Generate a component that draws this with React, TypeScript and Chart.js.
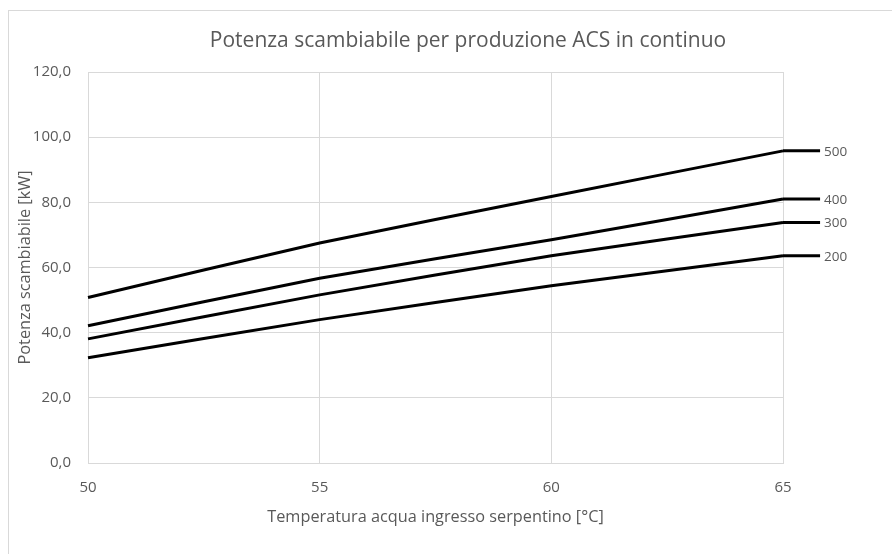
import React, { useEffect, useRef } from "react";
import { Chart, registerables } from "chart.js";

Chart.register(...registerables);

// ---- data ----
const temperatures = [50, 55, 60, 65];
const tailEndTemperature = 65.8;
const seriesNames = ["500", "400", "300", "200"];
const power500 = [50.8, 67.5, 81.8, 95.8];
const power400 = [42.1, 56.7, 68.5, 81.0];
const power300 = [38.1, 51.6, 63.6, 73.8];
const power200 = [32.3, 44.0, 54.4, 63.6];
const yTicks = [0, 20, 40, 60, 80, 100, 120];
const xTicks = [50, 55, 60, 65];

const chartTitle = "Potenza scambiabile per produzione ACS in continuo";
const xTitle = "Temperatura acqua ingresso serpentino [°C]";
const yTitle = "Potenza scambiabile [kW]";

const TEXT = "#595959";
const GRID = "#d9d9d9";
const FONT = "'Open Sans', sans-serif";

export default function App() {
  const ref = useRef<HTMLCanvasElement | null>(null);

  useEffect(() => {
    if (!ref.current) return;
    const allSeries = [power500, power400, power300, power200];
    const datasets: any[] = [];
    allSeries.forEach((vals, i) => {
      datasets.push({
        label: seriesNames[i],
        data: temperatures.map((t, j) => ({ x: t, y: vals[j] })),
        borderColor: "#000",
        borderWidth: 3,
        pointRadius: 0,
        tension: 0.15,
        fill: false,
        clip: false,
      });
      const last = vals[vals.length - 1];
      datasets.push({
        label: seriesNames[i] + "-tail",
        data: [
          { x: temperatures[temperatures.length - 1], y: last },
          { x: tailEndTemperature, y: last },
        ],
        borderColor: "#000",
        borderWidth: 3,
        pointRadius: 0,
        tension: 0,
        fill: false,
        clip: false,
        isTail: true,
        seriesLabel: seriesNames[i],
      });
    });

    const textPlugin = {
      id: "textPlugin",
      afterDraw(chart: any) {
        const ctx = chart.ctx;
        const ca = chart.chartArea;
        ctx.save();
        ctx.fillStyle = TEXT;
        // title
        ctx.font = `21px ${FONT}`;
        ctx.textAlign = "center";
        ctx.textBaseline = "alphabetic";
        ctx.fillText(chartTitle, 468, 47);
        // x title
        ctx.font = `16.3px ${FONT}`;
        ctx.fillText(xTitle, (ca.left + ca.right) / 2, 522);
        // y title
        ctx.save();
        ctx.translate(30, (ca.top + ca.bottom) / 2);
        ctx.rotate(-Math.PI / 2);
        ctx.fillText(yTitle, 0, 0);
        ctx.restore();
        // series labels
        ctx.font = `13.5px ${FONT}`;
        ctx.textAlign = "left";
        ctx.textBaseline = "middle";
        const xs = chart.scales.x;
        const ys = chart.scales.y;
        chart.data.datasets.forEach((ds: any) => {
          if (!ds.isTail) return;
          const p = ds.data[ds.data.length - 1];
          ctx.fillText(ds.seriesLabel, xs.getPixelForValue(p.x) + 4, ys.getPixelForValue(p.y) + 1);
        });
        ctx.restore();
      },
    };

    const chart = new Chart(ref.current, {
      type: "line",
      data: { datasets },
      options: {
        animation: false,
        responsive: false,
        maintainAspectRatio: false,
        layout: { padding: { top: 72, right: 109, bottom: 51, left: 0 } },
        plugins: {
          legend: { display: false },
          title: { display: false },
          tooltip: { enabled: false },
        },
        scales: {
          x: {
            type: "linear",
            min: xTicks[0],
            max: xTicks[xTicks.length - 1],
            afterBuildTicks: (s: any) => {
              s.ticks = xTicks.map((v) => ({ value: v }));
            },
            afterFit: (s: any) => {
              s.height = 40;
            },
            ticks: {
              color: TEXT,
              font: { family: FONT, size: 15 },
              padding: 16,
              maxRotation: 0,
              callback: (v: any) => String(v),
            },
            grid: { color: GRID, drawTicks: false, lineWidth: 1 },
            border: { color: GRID },
          },
          y: {
            type: "linear",
            min: yTicks[0],
            max: yTicks[yTicks.length - 1],
            afterBuildTicks: (s: any) => {
              s.ticks = yTicks.map((v) => ({ value: v }));
            },
            afterFit: (s: any) => {
              s.width = 88;
            },
            ticks: {
              color: TEXT,
              font: { family: FONT, size: 15 },
              padding: 17,
              callback: (v: any) => Number(v).toFixed(1).replace(".", ","),
            },
            grid: { color: GRID, drawTicks: false, lineWidth: 1 },
            border: { color: GRID },
          },
        },
      },
      plugins: [textPlugin],
    });
    return () => chart.destroy();
  }, []);

  return (
    <div style={{ position: "fixed", left: 0, top: 0, width: 892, height: 554, background: "#fff", overflow: "hidden" }}>
      <div
        style={{
          position: "absolute",
          left: 8,
          top: 10,
          width: 960,
          height: 600,
          border: "1px solid #d9d9d9",
          boxSizing: "border-box",
        }}
      />
      <canvas ref={ref} width={892} height={554} style={{ position: "absolute", left: 0, top: 0, width: 892, height: 554 }} />
    </div>
  );
}
